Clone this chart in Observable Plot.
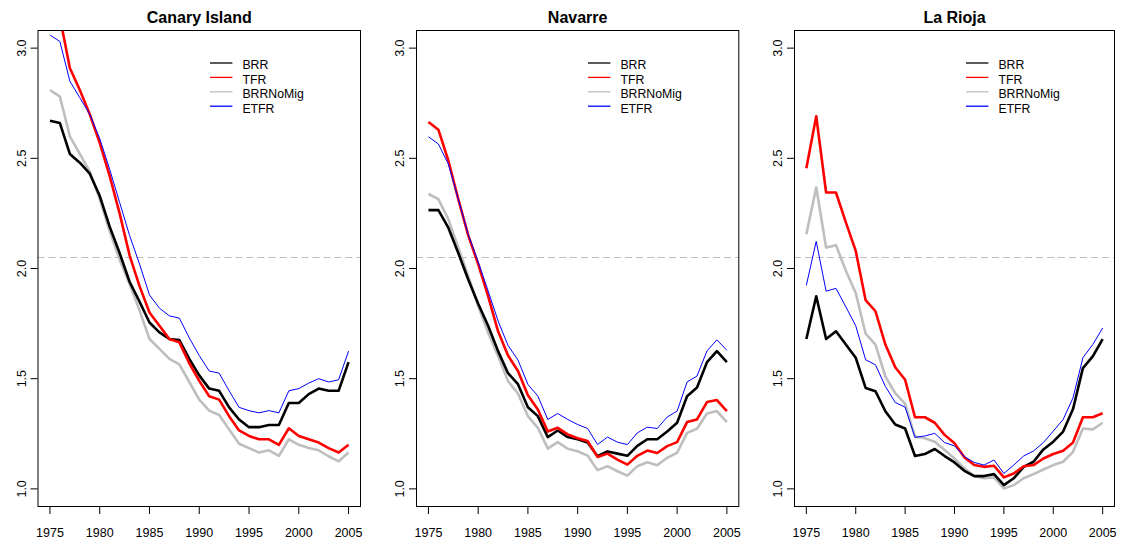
<!DOCTYPE html>
<html>
<head>
<meta charset="utf-8">
<script src="https://cdn.jsdelivr.net/npm/d3@7"></script>
<script src="https://cdn.jsdelivr.net/npm/@observablehq/plot@0.6"></script>
<style>
  body { margin: 0; background: #fff; font-family: "Liberation Sans", Arial, Helvetica, sans-serif; }
  #chart { position: relative; width: 1125px; height: 540px; background: #fff; }
  .panel { position: absolute; top: 0; width: 375px; height: 540px; }
  .legend { position: absolute; overflow: visible; }
</style>
</head>
<body>
<div id="chart"></div>
<script>
// ---------- data ----------
const years = [1975, 1976, 1977, 1978, 1979, 1980, 1981, 1982, 1983, 1984, 1985, 1986, 1987, 1988, 1989, 1990,
               1991, 1992, 1993, 1994, 1995, 1996, 1997, 1998, 1999, 2000, 2001, 2002, 2003, 2004, 2005];
const xTicks = [1975, 1980, 1985, 1990, 1995, 2000, 2005];
const yTicks = [1.0, 1.5, 2.0, 2.5, 3.0];
const replacementLevel = 2.05;
const seriesNames = ["BRR", "TFR", "BRRNoMig", "ETFR"];
const seriesColors = ["#000000", "#ff0000", "#bebebe", "#0000ff"];
const panelTitles = ["Canary Island", "Navarre", "La Rioja"];

const canaryBRR = [2.67, 2.66, 2.52, 2.48, 2.43, 2.33, 2.19, 2.07, 1.94, 1.85, 1.755, 1.71, 1.68, 1.675, 1.59, 1.515,
                   1.455, 1.445, 1.37, 1.315, 1.28, 1.28, 1.29, 1.29, 1.39, 1.39, 1.43, 1.455, 1.445, 1.445, 1.575];
const canaryTFR = [3.20, 3.14, 2.91, 2.81, 2.70, 2.57, 2.42, 2.25, 2.06, 1.92, 1.80, 1.74, 1.68, 1.665, 1.57, 1.49,
                   1.42, 1.405, 1.33, 1.265, 1.24, 1.225, 1.225, 1.20, 1.275, 1.24, 1.225, 1.21, 1.185, 1.165, 1.20];
const canaryBRRNoMig = [2.81, 2.78, 2.60, 2.52, 2.44, 2.315, 2.17, 2.04, 1.93, 1.81, 1.68, 1.635, 1.59, 1.565, 1.485, 1.405,
                        1.355, 1.335, 1.27, 1.205, 1.185, 1.165, 1.175, 1.15, 1.225, 1.20, 1.185, 1.175, 1.148, 1.125, 1.165];
const canaryETFR = [3.06, 3.03, 2.85, 2.775, 2.70, 2.59, 2.45, 2.30, 2.15, 2.02, 1.88, 1.82, 1.785, 1.775, 1.685, 1.605,
                    1.535, 1.525, 1.445, 1.37, 1.355, 1.345, 1.355, 1.345, 1.445, 1.455, 1.48, 1.50, 1.485, 1.495, 1.625];

const navarreBRR = [2.265, 2.265, 2.185, 2.07, 1.95, 1.84, 1.74, 1.625, 1.525, 1.475, 1.37, 1.33, 1.235, 1.265, 1.235, 1.225,
                    1.21, 1.148, 1.17, 1.16, 1.15, 1.195, 1.225, 1.225, 1.26, 1.30, 1.42, 1.46, 1.575, 1.625, 1.575];
const navarreTFR = [2.665, 2.63, 2.49, 2.315, 2.15, 2.02, 1.875, 1.715, 1.605, 1.535, 1.425, 1.36, 1.26, 1.277, 1.247, 1.23,
                    1.217, 1.145, 1.16, 1.133, 1.11, 1.15, 1.174, 1.163, 1.194, 1.212, 1.303, 1.315, 1.394, 1.403, 1.353];
const navarreBRRNoMig = [2.338, 2.315, 2.224, 2.095, 1.966, 1.83, 1.709, 1.603, 1.489, 1.433, 1.33, 1.277, 1.183, 1.212, 1.182, 1.171,
                         1.151, 1.085, 1.103, 1.08, 1.06, 1.103, 1.121, 1.107, 1.141, 1.164, 1.254, 1.273, 1.342, 1.353, 1.303];
const navarreETFR = [2.598, 2.565, 2.474, 2.315, 2.155, 2.03, 1.898, 1.762, 1.651, 1.585, 1.474, 1.421, 1.315, 1.342, 1.315, 1.292,
                     1.274, 1.201, 1.235, 1.212, 1.201, 1.254, 1.28, 1.274, 1.326, 1.353, 1.485, 1.512, 1.626, 1.676, 1.629];

const riojaBRR = [1.68, 1.874, 1.68, 1.715, 1.655, 1.595, 1.458, 1.443, 1.352, 1.292, 1.274, 1.149, 1.158, 1.181, 1.149, 1.12,
                  1.082, 1.058, 1.058, 1.067, 1.017, 1.048, 1.10, 1.123, 1.179, 1.214, 1.26, 1.362, 1.548, 1.601, 1.68];
const riojaTFR = [2.455, 2.691, 2.345, 2.345, 2.209, 2.08, 1.856, 1.806, 1.655, 1.552, 1.495, 1.325, 1.325, 1.30, 1.245, 1.207,
                  1.143, 1.108, 1.10, 1.105, 1.052, 1.07, 1.103, 1.108, 1.138, 1.158, 1.173, 1.21, 1.325, 1.325, 1.343];
const riojaBRRNoMig = [2.156, 2.368, 2.095, 2.106, 1.99, 1.889, 1.704, 1.655, 1.51, 1.434, 1.386, 1.237, 1.23, 1.214, 1.176, 1.138,
                       1.093, 1.058, 1.048, 1.052, 1.002, 1.017, 1.048, 1.067, 1.088, 1.108, 1.123, 1.168, 1.274, 1.27, 1.30];
const riojaETFR = [1.924, 2.123, 1.897, 1.91, 1.826, 1.74, 1.586, 1.563, 1.465, 1.392, 1.371, 1.234, 1.24, 1.252, 1.21, 1.195,
                   1.146, 1.12, 1.108, 1.131, 1.07, 1.108, 1.149, 1.172, 1.21, 1.262, 1.315, 1.413, 1.595, 1.655, 1.73];

const panelSeries = [
  [canaryBRR, canaryTFR, canaryBRRNoMig, canaryETFR],
  [navarreBRR, navarreTFR, navarreBRRNoMig, navarreETFR],
  [riojaBRR, riojaTFR, riojaBRRNoMig, riojaETFR]
];

// ---------- layout / style ----------
const panelLefts = [0, 375, 750];
const panelMargins = [[37.5, 15], [41, 11.7], [44, 11]];
const lineWidths = {BRR: 2.6, TFR: 2.6, BRRNoMig: 2.6, ETFR: 1};
const drawOrder = ["BRRNoMig", "BRR", "TFR", "ETFR"];
const fontFamily = "'Liberation Sans', Arial, Helvetica, sans-serif";

const chart = document.getElementById("chart");

panelTitles.forEach((title, i) => {
  const rows = [];
  seriesNames.forEach((name, k) => {
    panelSeries[i][k].forEach((v, j) => rows.push({year: years[j], value: v, series: name}));
  });
  const colorOf = name => seriesColors[seriesNames.indexOf(name)];
  const [ml, mr] = panelMargins[i];

  const plot = Plot.plot({
    width: 375,
    height: 540,
    marginLeft: ml,
    marginRight: mr,
    marginTop: 30,
    marginBottom: 34,
    style: {fontFamily, fontSize: "12.5px", background: "white", color: "#000", overflow: "visible"},
    x: {domain: [1973.8, 2006.2], label: null},
    y: {domain: [0.92, 3.08], label: null},
    marks: [
      Plot.ruleY([replacementLevel], {stroke: "#bdbdbd", strokeWidth: 1.1, strokeDasharray: "7,4"}),
      ...drawOrder.map(name => Plot.line(rows.filter(d => d.series === name), {
        x: "year", y: "value", stroke: colorOf(name), strokeWidth: lineWidths[name],
        strokeLinejoin: "round", strokeLinecap: "butt", clip: true
      })),
      Plot.frame({stroke: "#000", strokeWidth: 1}),
      Plot.axisX({ticks: xTicks, tickFormat: d => String(d), tickSize: 8, tickPadding: 14,
                  fontSize: 12.5, label: null, stroke: "#000"}),
      Plot.axisY({ticks: yTicks, tickFormat: d3.format(".1f"), tickSize: 7, tickPadding: 5.5,
                  tickRotate: -90, textAnchor: "middle", lineAnchor: "bottom",
                  fontSize: 12.5, label: null, stroke: "#000"}),
      Plot.text([title], {text: d => d, frameAnchor: "top", dy: -7.5, lineAnchor: "bottom",
                          fontWeight: "bold", fontSize: 16, fill: "#000"})
    ]
  });

  const panel = document.createElement("div");
  panel.className = "panel";
  panel.style.left = panelLefts[i] + "px";
  panel.appendChild(plot);

  // legend overlay
  const legTop = 50, legLeft = ml + 172;
  const leg = d3.select(panel).append("svg")
    .attr("class", "legend")
    .attr("width", 120).attr("height", 70)
    .style("left", legLeft + "px").style("top", legTop + "px");
  seriesNames.forEach((name, k) => {
    const yc = 63 + k * 14.4 - legTop;
    leg.append("line")
      .attr("x1", 0).attr("x2", 22.4).attr("y1", yc).attr("y2", yc)
      .attr("stroke", seriesColors[k]).attr("stroke-width", 1.3);
    leg.append("text")
      .attr("x", 32.4).attr("y", yc + 6.3)
      .attr("font-family", fontFamily).attr("font-size", 12.3).attr("fill", "#000")
      .text(name);
  });

  chart.appendChild(panel);
});
</script>
</body>
</html>
